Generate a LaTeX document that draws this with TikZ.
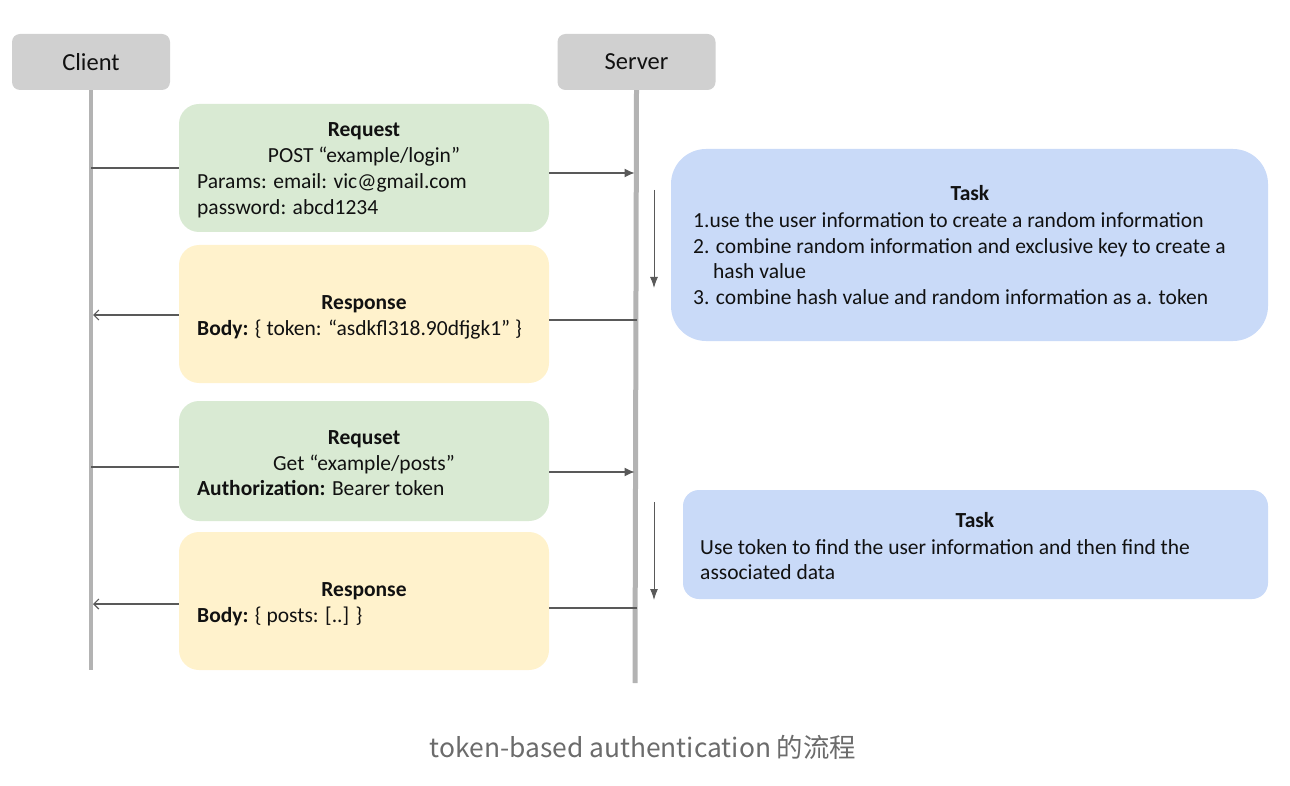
\documentclass[tikz,border=0pt]{standalone}
\usepackage{fontspec}
\setmainfont{Carlito}
\newfontfamily\capfont{Noto Sans CJK SC}
\usetikzlibrary{arrows.meta}
\definecolor{hdrgray}{HTML}{D0D0D0}
\definecolor{linegray}{HTML}{B3B3B3}
\definecolor{reqgreen}{HTML}{D9EAD3}
\definecolor{respyellow}{HTML}{FFF2CC}
\definecolor{taskblue}{HTML}{C9DAF8}
\definecolor{arrgray}{HTML}{595959}
\definecolor{txt}{HTML}{111111}
\definecolor{capgray}{HTML}{6B6B6B}
\tikzset{
  hdr/.style={fill=hdrgray,rounded corners=8pt,minimum width=158pt,minimum height=56pt,inner sep=0pt,font=\fontsize{24.5}{28}\selectfont,text=txt},
  msgbox/.style={rounded corners=20pt,minimum width=370pt,inner sep=0pt},
  taskbox/.style={fill=taskblue,inner sep=0pt},
  life/.style={draw=linegray,line width=4pt},
  conn/.style={draw=arrgray,line width=1.2pt},
  arrR/.style={conn,-{Latex[length=10pt,width=9pt]}},
  arrL/.style={conn,-{Straight Barb[length=5pt,width=10pt]}},
  arrD/.style={draw=arrgray,line width=1pt,-{Latex[length=11pt,width=8pt]}},
  tl/.style={anchor=base west,inner sep=0pt,font=\fontsize{21.5}{26}\selectfont,text=txt},
  tc/.style={anchor=base,inner sep=0pt,font=\fontsize{21.5}{26}\selectfont,text=txt},
}
\begin{document}
\begin{tikzpicture}[x=1pt,y=-1pt]
\useasboundingbox (0,0) rectangle (1290,786);
% headers
\node[hdr] (client) at (91,62) {Client};
\node[hdr] (server) at (636.5,62) {Server};
% lifelines
\coordinate (cbot) at (91,670);
\coordinate (sbot) at (635,683);
\draw[life] (client.south) -- (cbot);
\draw[life,line width=5pt] (server.south) -- (sbot);
% message boxes
\node[msgbox,fill=reqgreen,minimum height=128pt] (req1) at (364,168) {};
\node[msgbox,fill=respyellow,minimum height=138pt] (resp1) at (364,314) {};
\node[msgbox,fill=reqgreen,minimum height=120pt] (req2) at (364,461) {};
\node[msgbox,fill=respyellow,minimum height=138pt] (resp2) at (364,601) {};
% task boxes
\node[taskbox,rounded corners=35pt,minimum width=597pt,minimum height=192pt] (task1) at (969.5,245) {};
\node[taskbox,rounded corners=16pt,minimum width=585pt,minimum height=109pt] (task2) at (975.5,544.5) {};
% texts request 1
\node[tc] (r1t) at (364,137) {\bfseries Request};
\node[tc] (r1a) at (364,163) {POST “example/login”};
\node[tl] (r1b) at (197,189) {Params: email: vic@gmail.com};
\node[tl] (r1c) at (197,215) {password: abcd1234};
% response 1
\node[tc] (p1t) at (364,309) {\bfseries Response};
\node[tl] (p1a) at (197,335) {\bfseries Body: \mdseries\{ token: “asdkfl318.90dfjgk1” \}};
% request 2
\node[tc] (r2t) at (364,444) {\bfseries Requset};
\node[tc] (r2a) at (364,470) {Get “example/posts”};
\node[tl] (r2b) at (197,495) {\bfseries Authorization: \mdseries Bearer token};
% response 2
\node[tc] (p2t) at (364,596) {\bfseries Response};
\node[tl] (p2a) at (197,622) {\bfseries Body: \mdseries\{ posts: [..] \}};
% task 1
\node[tc] (t1t) at (970,201) {\bfseries Task};
\node[tl] (t1a) at (693,228) {1.use the user information to create a random information};
\node[tl] (t1b) at (693,254) {2. combine random information and exclusive key to create a};
\node[tl] (t1c) at (713,279) {hash value};
\node[tl] (t1d) at (693,305) {3. combine hash value and random information as a. token};
% task 2
\node[tc] (t2t) at (975,527) {\bfseries Task};
\node[tl] (t2a) at (700,554) {Use token to find the user information and then find the};
\node[tl] (t2b) at (700,579) {associated data};
% connectors
\draw[conn] (req1.west -| client.south) -- (req1.west);
\draw[arrR] ([yshift=-5pt]req1.east) -- ([yshift=-5pt,xshift=-2pt]req1.east -| server.south);
\draw[conn] ([yshift=-6pt]resp1.east -| server.south) -- ([yshift=-6pt]resp1.east);
\draw[arrL] ([yshift=-1pt]resp1.west) -- ([yshift=-1pt,xshift=2pt]resp1.west -| client.south);
\draw[conn] ([yshift=-6pt]req2.west -| client.south) -- ([yshift=-6pt]req2.west);
\draw[arrR] ([yshift=-11pt]req2.east) -- ([yshift=-11pt,xshift=-2pt]req2.east -| server.south);
\draw[conn] ([yshift=-7pt]resp2.east -| server.south) -- ([yshift=-7pt]resp2.east);
\draw[arrL] ([yshift=-3pt]resp2.west) -- ([yshift=-3pt,xshift=2pt]resp2.west -| client.south);
% task arrows
\coordinate (d1a) at (654,190);
\coordinate (d1b) at (654,288);
\coordinate (d2a) at (654,502);
\coordinate (d2b) at (654,600);
\draw[arrD] (d1a) -- (d1b);
\draw[arrD] (d2a) -- (d2b);
% caption
\node[anchor=base,inner sep=0pt,text=capgray,font=\capfont\fontsize{26.4}{30}\selectfont] (cap) at (643,757) {token-based authentication 的流程};
\end{tikzpicture}
\end{document}
